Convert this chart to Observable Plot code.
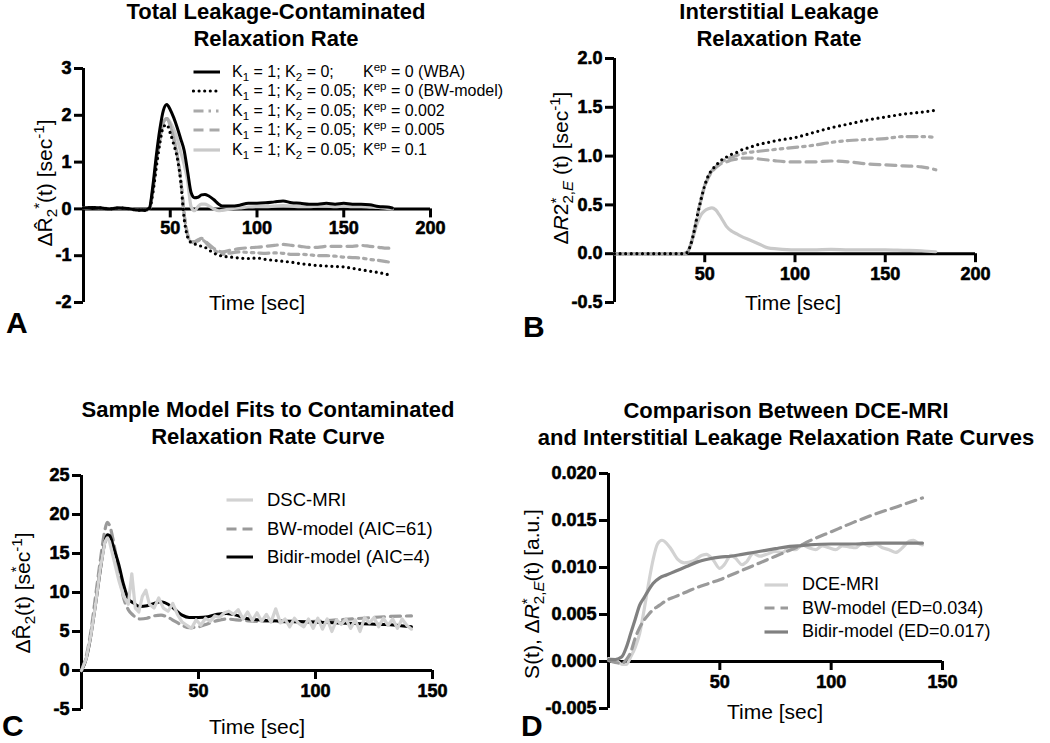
<!DOCTYPE html>
<html><head><meta charset="utf-8">
<script src="https://cdn.jsdelivr.net/npm/d3@7"></script>
<script src="https://cdn.jsdelivr.net/npm/@observablehq/plot@0.6"></script>
<style>
body{margin:0;background:#fff;font-family:"Liberation Sans",Arial,sans-serif;color:#000;}
#root{position:relative;width:1050px;height:743px;overflow:hidden;}
svg text{font-weight:bold !important;font-family:"Liberation Sans",Arial,sans-serif !important;}
.title{position:absolute;font-weight:bold;font-size:22px;line-height:27px;text-align:center;white-space:nowrap;transform:translateX(-50%);}
.ylab{position:absolute;font-size:21px;line-height:24px;white-space:nowrap;transform:translate(-50%,-50%) rotate(-90deg);}
.xlab{position:absolute;font-size:21px;line-height:24px;white-space:nowrap;transform:translate(-50%,-50%);}
.letter{position:absolute;font-weight:bold;font-size:30px;line-height:30px;}
.legend{position:absolute;}
.legend .row{display:flex;align-items:center;white-space:pre;}
.legend svg{flex:none;}
sub{font-size:0.72em;vertical-align:-0.32em;line-height:0;}
sup{font-size:0.72em;vertical-align:0.5em;line-height:0;}
.ss{display:inline-block;vertical-align:middle;line-height:0.85;font-size:0.72em;text-align:left;}
.k1{display:inline-block;width:131px;}
</style>
</head><body><div id="root"></div>
<script>
// ---------- Panel A data ----------
const timeA = [0,5,10,15,20,25,30,35,38,40,42,44,46,48,50,52,54,56,58,60,62,64,66,68,70,72,75,78,80,85,90,95,100,105,110,115,120,125,130,135,140,145,150,155,160,165,170,175,178];
const wbaA = [0.02,0.03,0.02,0.0,0.02,0.01,-0.02,-0.03,0.02,0.5,1.15,1.7,2.1,2.23,2.12,1.95,1.74,1.5,1.25,0.8,0.35,0.24,0.25,0.3,0.31,0.28,0.2,0.1,0.06,0.06,0.08,0.12,0.12,0.13,0.15,0.17,0.13,0.12,0.1,0.1,0.12,0.1,0.12,0.1,0.1,0.09,0.05,0.04,0.02];
const bwA = [0.02,0.03,0.02,0.0,0.02,0.01,-0.02,-0.03,0.0,0.35,0.9,1.4,1.75,1.8,1.62,1.38,1.1,0.6,-0.2,-0.6,-0.72,-0.75,-0.77,-0.8,-0.82,-0.87,-0.94,-0.99,-1.01,-1.03,-1.05,-1.06,-1.05,-1.08,-1.1,-1.12,-1.14,-1.17,-1.19,-1.21,-1.22,-1.23,-1.24,-1.27,-1.3,-1.33,-1.36,-1.4,-1.43];
const kep002A = [0.02,0.03,0.02,0.0,0.02,0.01,-0.02,-0.03,0.0,0.4,1.0,1.5,1.85,1.93,1.78,1.5,1.15,0.65,-0.1,-0.55,-0.7,-0.72,-0.68,-0.65,-0.7,-0.78,-0.87,-0.94,-0.97,-0.94,-0.92,-0.93,-0.94,-0.95,-0.94,-0.95,-0.97,-0.97,-0.98,-1.0,-1.0,-1.01,-1.03,-1.04,-1.05,-1.08,-1.1,-1.13,-1.15];
const kep005A = [0.02,0.03,0.02,0.0,0.02,0.01,-0.02,-0.03,0.0,0.4,1.0,1.5,1.85,1.93,1.78,1.5,1.15,0.65,-0.1,-0.55,-0.7,-0.7,-0.66,-0.63,-0.68,-0.75,-0.84,-0.9,-0.92,-0.88,-0.85,-0.83,-0.82,-0.8,-0.78,-0.76,-0.78,-0.8,-0.82,-0.82,-0.8,-0.8,-0.8,-0.8,-0.78,-0.8,-0.82,-0.84,-0.84];
const kep01A = [0.02,0.03,0.02,0.0,0.02,0.01,-0.02,-0.03,0.02,0.4,1.0,1.5,1.85,1.93,1.85,1.7,1.5,1.22,0.95,0.6,0.05,-0.04,0.05,0.1,0.1,0.07,0.0,-0.04,-0.03,0.0,0.02,0.04,0.05,0.05,0.06,0.07,0.06,0.05,0.05,0.06,0.06,0.05,0.06,0.05,0.05,0.04,0.03,0.01,0.0];
const xTicksA = [50,100,150,200];
const yTicksA = [-2,-1,0,1,2,3];
const legendA = [
  ["K<sub>1</sub> = 1; K<sub>2</sub> = 0;", "K<sup>ep</sup> = 0 (WBA)"],
  ["K<sub>1</sub> = 1; K<sub>2</sub> = 0.05;", "K<sup>ep</sup> = 0 (BW-model)"],
  ["K<sub>1</sub> = 1; K<sub>2</sub> = 0.05;", "K<sup>ep</sup> = 0.002"],
  ["K<sub>1</sub> = 1; K<sub>2</sub> = 0.05;", "K<sup>ep</sup> = 0.005"],
  ["K<sub>1</sub> = 1; K<sub>2</sub> = 0.05;", "K<sup>ep</sup> = 0.1"]
];

// ---------- Panel B data ----------
const timeB = [0,10,20,30,38,40,42,44,46,48,50,52,54,56,58,60,62,65,68,70,75,80,85,90,100,110,120,130,140,150,160,170,178];
const bwB = [0,0,0,0,0,0.01,0.08,0.22,0.4,0.56,0.7,0.8,0.86,0.9,0.94,0.97,0.99,1.02,1.04,1.06,1.09,1.12,1.14,1.16,1.19,1.24,1.29,1.33,1.37,1.4,1.43,1.45,1.47];
const kep002B = [0,0,0,0,0,0.01,0.08,0.22,0.4,0.56,0.7,0.79,0.85,0.89,0.92,0.95,0.97,0.99,1.01,1.02,1.04,1.05,1.06,1.07,1.09,1.11,1.14,1.16,1.17,1.18,1.2,1.2,1.19];
const kep005B = [0,0,0,0,0,0.01,0.08,0.22,0.4,0.56,0.69,0.78,0.84,0.88,0.91,0.93,0.94,0.96,0.97,0.98,0.98,0.97,0.96,0.95,0.94,0.94,0.95,0.94,0.92,0.91,0.9,0.89,0.86];
const kep01B = [0,0,0,0,0,0.01,0.08,0.2,0.32,0.4,0.44,0.46,0.47,0.45,0.4,0.34,0.28,0.23,0.2,0.18,0.14,0.1,0.06,0.05,0.04,0.04,0.045,0.04,0.04,0.04,0.035,0.03,0.02];
const xTicksB = [50,100,150,200];
const yTicksB = [-0.5,0,0.5,1,1.5,2];

// ---------- Panel C data ----------
const timeC = [0,2,4,6,8,10,11,12,14,16,18,20,22,25,28,31,34,37,40,43,46,50,54,58,62,66,70,75,80,90,100,110,120,130,141];
const bidirC = [0,1.5,4.5,8.5,12.8,16.5,17.4,17.3,15.5,13.5,11,9.2,8.7,8.2,8.3,8.6,8.8,8.5,7.8,7.1,6.8,6.8,6.9,7.2,7.3,7.1,6.7,6.5,6.4,6.3,6.2,6.1,6.0,5.9,5.6];
const bwC = [0,1.8,5,9.5,14,18,19,18.6,16,12.5,9.3,7.8,7.1,6.6,6.7,7.0,7.1,6.8,6.3,5.8,5.5,5.6,6.0,6.4,6.6,6.5,6.4,6.3,6.3,6.2,6.3,6.5,6.7,6.9,7.0];
const dscTime = [0,2,4,6,8,10,11,12,14,16,18,20,21.5,23,24.5,26,27.5,29,31,33,35,37,39,41,43,45,47,49,51,53,55,57,59,61,63,65,67,69,71,73,75,77,79,81,83,85,87,89,91,93,95,97,99,101,103,105,107,109,111,113,115,117,119,121,123,125,127,129,131,133,135,137,139,141];
const dscC = [0,1.5,4.5,8.5,13,16.5,17,16.5,14,11.5,9.5,8.5,12.4,8,7.5,9.5,10.3,8.5,8,9.3,8,7.6,8.6,7.2,6.2,5.8,5.4,6.5,5.8,6.7,6.3,7.0,6.8,7.4,7.6,7.2,7.8,6.6,7.5,6.4,7.4,6.3,7.2,6.2,7.9,6.1,6.6,5.6,6.7,6.0,5.6,6.6,5.4,6.7,5.3,6.6,5.0,6.5,5.9,6.6,5.4,6.5,5.0,6.8,6.1,6.8,5.6,6.7,5.8,6.6,5.4,6.6,5.8,5.3];
const xTicksC = [50,100,150];
const yTicksC = [-5,0,5,10,15,20,25];
const legendC = ["DSC-MRI","BW-model (AIC=61)","Bidir-model (AIC=4)"];

// ---------- Panel D data ----------
const timeD = [0,3,6,8,10,12,14,16,18,20,23,26,30,35,40,45,50,55,60,65,70,75,80,85,90,100,110,120,130,141];
const bidirD = [0.0002,0.0002,0.0005,0.0015,0.003,0.0045,0.006,0.0068,0.0076,0.0083,0.0089,0.0092,0.0096,0.0101,0.0106,0.0109,0.0111,0.0112,0.0114,0.0116,0.0118,0.012,0.0122,0.0123,0.0124,0.0125,0.0125,0.0126,0.0126,0.0126];
const bwD = [0.0001,-0.0001,-0.0002,0.0002,0.001,0.0025,0.0036,0.0044,0.005,0.0055,0.006,0.0065,0.0069,0.0074,0.0079,0.0083,0.0087,0.0092,0.0097,0.0102,0.0107,0.0112,0.0117,0.0122,0.0128,0.0138,0.0148,0.0157,0.0165,0.0174];
const dceTime = [0,3,6,8,10,12,14,16,18,20,22,24,26,28,31,34,38,42,44,47,50,52,55,57,60,62,65,68,71,75,78,81,84,87,90,93,96,99,102,105,108,111,114,117,120,123,126,129,132,135,137,139,141];
const dceD = [0.0003,0.0002,-0.0003,-0.0003,0.0005,0.0015,0.003,0.0055,0.0083,0.0108,0.0125,0.0129,0.0126,0.012,0.0109,0.0105,0.0107,0.0113,0.0114,0.0108,0.0099,0.0103,0.0113,0.011,0.0103,0.0106,0.0115,0.0112,0.0114,0.0117,0.0116,0.012,0.0119,0.0124,0.0121,0.0119,0.0123,0.0121,0.0119,0.0123,0.0122,0.0121,0.0126,0.0123,0.0125,0.0121,0.0119,0.0116,0.0121,0.0128,0.0129,0.0126,0.0124];
const xTicksD = [50,100,150];
const yTicksD = [-0.005,0,0.005,0.01,0.015,0.02];
const legendD = ["DCE-MRI","BW-model (ED=0.034)","Bidir-model (ED=0.017)"];

// ---------- styles ----------
const ST = {
  black: {stroke:"#000", strokeWidth:3},
  dotted: {stroke:"#000", strokeWidth:3.2, strokeDasharray:"0 5.6", strokeLinecap:"round"},
  dashdot: {stroke:"#a9a9a9", strokeWidth:3.2, strokeDasharray:"10 5 2.5 5 2.5 5"},
  dashed: {stroke:"#a9a9a9", strokeWidth:3.2, strokeDasharray:"10 6"},
  light: {stroke:"#c9c9c9", strokeWidth:3.2},
  dashedC: {stroke:"#9a9a9a", strokeWidth:3.2, strokeDasharray:"10 6"},
  lightC: {stroke:"#d2d2d2", strokeWidth:3.2},
  darkD: {stroke:"#808080", strokeWidth:3.2}
};
const TICK_PX = 9;

const root = document.getElementById("root");
function rows(t, v) { return t.map((x, i) => ({t: x, v: v[i]})); }
function line(t, v, st, curve) { return Plot.line(rows(t, v), {x: "t", y: "v", curve: curve || "monotone-x", ...st}); }
// ticks: short rules whose data-unit length corresponds to TICK_PX pixels
function axes(xTicks, yTicks, fmt, dy, xd, yd, fw, fh) {
  const tx = (yd[1] - yd[0]) / fh * TICK_PX;
  const ty = (xd[1] - xd[0]) / fw * TICK_PX;
  const xt = xTicks.map(v => ({x: v, y1: 0, y2: -tx}));
  const yt = yTicks.map(v => ({y: v, x1: 0, x2: -ty}));
  return [
    Plot.ruleX([0], {strokeWidth: 3}),
    Plot.ruleY([0], {strokeWidth: 3}),
    Plot.ruleX(xt, {x: "x", y1: "y1", y2: "y2", stroke: "#000", strokeWidth: 3}),
    Plot.ruleY(yt, {y: "y", x1: "x1", x2: "x2", stroke: "#000", strokeWidth: 3}),
    Plot.text(xTicks, {x: d => d, y: () => 0, dy: dy, text: d => String(d), fontSize: 18, fontWeight: "bold", fill: "#000", stroke: "#000", strokeWidth: 0.6}),
    Plot.text(yTicks, {y: d => d, frameAnchor: "left", dx: -12, textAnchor: "end", text: fmt, fontSize: 18, fontWeight: "bold", fill: "#000", stroke: "#000", strokeWidth: 0.6})
  ];
}
function place(el, left, top) { el.style.position = "absolute"; el.style.left = left + "px"; el.style.top = top + "px"; root.appendChild(el); }
function html(cls, content, left, top) { const d = document.createElement("div"); d.className = cls; d.innerHTML = content; d.style.left = left + "px"; d.style.top = top + "px"; root.appendChild(d); return d; }
function swatch(st, w) {
  const ns = "http://www.w3.org/2000/svg";
  const s = document.createElementNS(ns, "svg"); s.setAttribute("width", w); s.setAttribute("height", 10);
  const l = document.createElementNS(ns, "line");
  l.setAttribute("x1", 1.5); l.setAttribute("x2", w); l.setAttribute("y1", 5); l.setAttribute("y2", 5);
  l.setAttribute("stroke", st.stroke); l.setAttribute("stroke-width", st.strokeWidth);
  if (st.strokeDasharray) l.setAttribute("stroke-dasharray", st.strokeDasharray);
  if (st.strokeLinecap) l.setAttribute("stroke-linecap", st.strokeLinecap);
  s.appendChild(l); return s;
}
function legend(items, styles, left, top, rowH, swW, gap, fontSize) {
  const d = document.createElement("div"); d.className = "legend";
  d.style.left = left + "px"; d.style.top = top + "px"; d.style.fontSize = fontSize + "px";
  items.forEach((it, i) => {
    const r = document.createElement("div"); r.className = "row"; r.style.height = rowH + "px";
    const sw = swatch(styles[i], swW); sw.style.marginRight = gap + "px"; r.appendChild(sw);
    const tx = document.createElement("span");
    tx.innerHTML = Array.isArray(it) ? `<span class="k1">${it[0]}</span>${it[1]}` : it;
    r.appendChild(tx); d.appendChild(r);
  });
  root.appendChild(d);
}
const svgStyle = {fontFamily: '"Liberation Sans", Arial, sans-serif', fontSize: "18px", fontWeight: "bold", overflow: "visible", background: "transparent", color: "#000"};

function panel(cfg) {
  const fw = cfg.width - cfg.marginLeft - cfg.marginRight;
  const fh = cfg.height - cfg.marginTop - cfg.marginBottom;
  return Plot.plot({
    width: cfg.width, height: cfg.height,
    marginLeft: cfg.marginLeft, marginRight: cfg.marginRight, marginTop: cfg.marginTop, marginBottom: cfg.marginBottom,
    x: {domain: cfg.xd, axis: null}, y: {domain: cfg.yd, axis: null}, style: svgStyle,
    marks: [...axes(cfg.xTicks, cfg.yTicks, cfg.fmt, cfg.dy, cfg.xd, cfg.yd, fw, fh), ...cfg.lines]
  });
}

// ---------- Panel A ----------
place(panel({
  width: 450, height: 320, marginLeft: 83, marginRight: 20, marginTop: 68, marginBottom: 18,
  xd: [0, 200], yd: [-2, 3], xTicks: xTicksA, yTicks: yTicksA, fmt: d => String(d), dy: 19,
  lines: [
    line(timeA, kep01A, ST.light),
    line(timeA, kep005A, ST.dashed),
    line(timeA, kep002A, ST.dashdot),
    line(timeA, bwA, ST.dotted),
    line(timeA, wbaA, ST.black)
  ]
}), 0, 0);

// ---------- Panel B ----------
place(panel({
  width: 500, height: 320, marginLeft: 114, marginRight: 25, marginTop: 58, marginBottom: 18,
  xd: [0, 200], yd: [-0.5, 2], xTicks: xTicksB, yTicks: yTicksB, fmt: d => d.toFixed(1), dy: 21,
  lines: [
    line(timeB, kep01B, ST.light),
    line(timeB, kep005B, ST.dashed),
    line(timeB, kep002B, ST.dashdot),
    line(timeB, bwB, ST.dotted)
  ]
}), 500, 0);

// ---------- Panel C ----------
place(panel({
  width: 450, height: 360, marginLeft: 81, marginRight: 18, marginTop: 105, marginBottom: 21,
  xd: [0, 150], yd: [-5, 25], xTicks: xTicksC, yTicks: yTicksC, fmt: d => String(d), dy: 21,
  lines: [
    line(timeC, bwC, ST.dashedC),
    line(timeC, bidirC, ST.black),
    line(dscTime, dscC, ST.lightC, "linear")
  ]
}), 0, 370);

// ---------- Panel D ----------
place(panel({
  width: 480, height: 360, marginLeft: 108, marginRight: 38, marginTop: 103, marginBottom: 22,
  xd: [0, 150], yd: [-0.005, 0.02], xTicks: xTicksD, yTicks: yTicksD, fmt: d => d.toFixed(3), dy: 21,
  lines: [
    line(dceTime, dceD, ST.lightC),
    line(timeD, bwD, ST.dashedC),
    line(timeD, bidirD, ST.darkD)
  ]
}), 500, 370);

// ---------- titles, labels, legends ----------
html("title", "Total Leakage-Contaminated<br>Relaxation Rate", 276, -2);
html("title", "Interstitial Leakage<br>Relaxation Rate", 779, -2);
html("title", "Sample Model Fits to Contaminated<br>Relaxation Rate Curve", 268, 396);
html("title", "Comparison Between DCE-MRI<br>and Interstitial Leakage Relaxation Rate Curves", 786, 397);

html("ylab", "&Delta;R&#770;<sub>2</sub><sup>*</sup>(t) [sec<sup>-1</sup>]", 45, 183);
html("ylab", "&Delta;<i>R</i>2<span class=\"ss\">*<br>2,<i>E</i></span> (t) [sec<sup>-1</sup>]", 562, 168);
html("ylab", "&Delta;R&#770;<sub>2</sub>(t) [s<span style=\"position:relative\">e<span style=\"position:absolute;left:0.12em;top:-0.45em;font-size:0.7em\">*</span></span>c<sup>-1</sup>]", 23, 593);
html("ylab", "S(t), &Delta;<i>R</i><span class=\"ss\">*<br>2,<i>E</i></span>(t) [a.u.]", 533, 594);

html("xlab", "Time [sec]", 257, 303);
html("xlab", "Time [sec]", 793, 303);
html("xlab", "Time [sec]", 257, 727);
html("xlab", "Time [sec]", 775, 712);

html("letter", "A", 6, 308);
html("letter", "B", 523, 312);
html("letter", "C", 2, 711);
html("letter", "D", 521, 711);

legend(legendA, [ST.black, ST.dotted, ST.dashdot, ST.dashed, ST.light], 192, 62, 19.5, 28, 12, 16);
legend(legendC, [ST.lightC, ST.dashedC, ST.black], 225, 486, 28.5, 28, 14, 18.5);
legend(legendD, [ST.lightC, ST.dashedC, ST.darkD], 763, 573, 23.5, 25, 14, 18);
</script>
</body></html>
